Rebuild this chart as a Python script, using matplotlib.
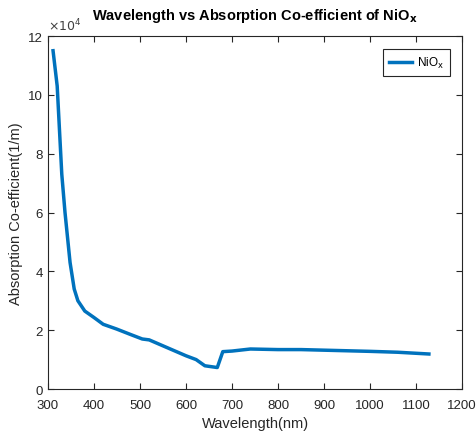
import matplotlib.pyplot as plt
from matplotlib.ticker import FuncFormatter

# wavelength (nm) and absorption coefficient (1/m)
wavelength = [311, 320, 330, 337, 348, 357, 365, 380, 400, 420, 449, 480, 505, 520,
              557, 600, 622, 641, 668, 680, 700, 740, 800, 850, 900, 1000, 1060, 1128]
absorption = [115000, 103000, 73000, 60000, 43000, 34000, 30000, 26500, 24300, 22000,
              20400, 18500, 17000, 16700, 14200, 11300, 10000, 7900, 7300, 12700,
              12900, 13600, 13400, 13400, 13200, 12800, 12500, 11900]

plt.rcParams['font.family'] = 'Liberation Sans'
fig = plt.figure(figsize=(4.77, 4.39), dpi=100)
ax = fig.add_axes([0.1006, 0.1116, 0.868, 0.8041])

ax.plot(wavelength, absorption, color='#0072BD', linewidth=2.5, label=r'NiO$_{\mathrm{x}}$')

ax.set_xlim(300, 1200)
ax.set_ylim(0, 120000)
ax.set_xticks(range(300, 1201, 100))
ax.set_yticks(range(0, 120001, 20000))
ax.yaxis.set_major_formatter(FuncFormatter(lambda v, p: '%g' % (v / 1e4)))
ax.text(0.0, 1.008, r'$\times10^{4}$', transform=ax.transAxes, fontsize=9,
        color='#404040', ha='left', va='bottom')

ax.tick_params(direction='in', top=True, right=True, labelsize=9.5, colors='#262626', length=4)
ax.tick_params(axis='x', pad=7)
for s in ax.spines.values():
    s.set_color('#262626')
    s.set_linewidth(0.8)

ax.set_xlabel('Wavelength(nm)', fontsize=10.5, color='#262626', labelpad=4)
ax.set_ylabel('Absorption Co-efficient(1/m)', fontsize=10.5, color='#262626', labelpad=4)
ax.set_title(r'Wavelength vs Absorption Co-efficient of NiO$_\mathbf{x}$',
             fontsize=10.5, fontweight='bold', pad=12)

leg = ax.legend(loc='upper right', fontsize=8.5, fancybox=False, framealpha=1,
                edgecolor='#262626', handlelength=2.0, handletextpad=0.4,
                borderpad=0.5, borderaxespad=0, bbox_to_anchor=(0.971, 0.963))
leg.get_frame().set_linewidth(0.8)

fig.savefig('out.png', dpi=100)
